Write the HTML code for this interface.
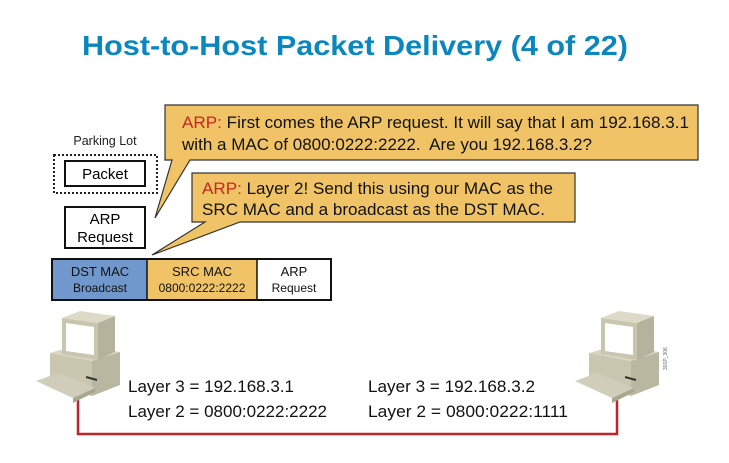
<!DOCTYPE html>
<html><head><meta charset="utf-8"><style>
html,body{margin:0;padding:0;background:#fff;}
svg{display:block;font-family:"Liberation Sans",Arial,sans-serif;}
</style></head><body>
<svg width="729" height="463" viewBox="0 0 729 463" xmlns="http://www.w3.org/2000/svg">
<text x="82" y="55" font-size="28" font-weight="bold" fill="#0a87bf" textLength="546" lengthAdjust="spacingAndGlyphs">Host-to-Host Packet Delivery (4 of 22)</text>

<!-- bubble 1 -->
<path d="M165,105 L698,105 L698,160 L190,160 L155,218 L172,160 L165,160 Z" fill="#f0c466" stroke="#333" stroke-width="1.2"/>
<text x="182" y="128" font-size="17" fill="#111" textLength="507" lengthAdjust="spacingAndGlyphs"><tspan fill="#c8281e">ARP:</tspan> First comes the ARP request. It will say that I am 192.168.3.1</text>
<text x="182" y="150" font-size="17" fill="#111" textLength="410" lengthAdjust="spacingAndGlyphs" xml:space="preserve">with a MAC of 0800:0222:2222.  Are you 192.168.3.2?</text>

<!-- bubble 2 -->
<path d="M192,173 L575,173 L575,222 L240,222 L152,255 L205,222 L192,222 Z" fill="#f0c466" stroke="#333" stroke-width="1.2"/>
<text x="202" y="194" font-size="17" fill="#111" textLength="351" lengthAdjust="spacingAndGlyphs"><tspan fill="#c8281e">ARP:</tspan> Layer 2! Send this using our MAC as the</text>
<text x="202" y="215" font-size="17" fill="#111" textLength="343" lengthAdjust="spacingAndGlyphs">SRC MAC and a broadcast as the DST MAC.</text>

<!-- parking lot -->
<text x="105" y="145" font-size="12.5" text-anchor="middle" fill="#222">Parking Lot</text>
<rect x="54" y="155" width="103" height="38" fill="none" stroke="#222" stroke-width="2" stroke-dasharray="2,2"/>
<rect x="65" y="161" width="80" height="25" fill="#fff" stroke="#111" stroke-width="2"/>
<text x="105" y="179" font-size="15" text-anchor="middle">Packet</text>
<rect x="65" y="207" width="80" height="41" fill="#fff" stroke="#111" stroke-width="2"/>
<text x="105" y="224" font-size="15" text-anchor="middle">ARP</text>
<text x="105" y="242" font-size="15" text-anchor="middle">Request</text>

<!-- frame -->
<rect x="52" y="259" width="95" height="41" fill="#7098cc"/>
<rect x="147" y="259" width="110" height="41" fill="#f0c466"/>
<rect x="257" y="259" width="74" height="41" fill="#fff"/>
<rect x="52" y="259" width="279" height="41" fill="none" stroke="#111" stroke-width="2"/>
<line x1="147" y1="259" x2="147" y2="300" stroke="#111" stroke-width="1.5"/>
<line x1="257" y1="259" x2="257" y2="300" stroke="#111" stroke-width="1.5"/>
<text x="100" y="276" font-size="13" text-anchor="middle" fill="#111">DST MAC</text>
<text x="100" y="292" font-size="12" text-anchor="middle" fill="#111">Broadcast</text>
<text x="202" y="276" font-size="13" text-anchor="middle" fill="#111">SRC MAC</text>
<text x="202" y="292" font-size="12" text-anchor="middle" fill="#111">0800:0222:2222</text>
<text x="294" y="276" font-size="13" text-anchor="middle" fill="#111">ARP</text>
<text x="294" y="292" font-size="12" text-anchor="middle" fill="#111">Request</text>

<!-- red line -->
<polyline points="78,397 78,434 617,434 617,397" fill="none" stroke="#c0232a" stroke-width="2.5"/>

<!-- computers -->
<defs>
<g id="pc">
<polygon points="50,353 78,345 120,352 92,361" fill="#d8d6c2"/>
<polygon points="92,361 120,352 120,385 92,396" fill="#b9b7a0"/>
<polygon points="50,353 92,361 92,396 50,385" fill="#c9c7b0"/>
<polygon points="36,381 58,373 95,388 73,398" fill="#d0cebb"/>
<polygon points="73,398 95,388 95,392 73,403" fill="#a9a790"/>
<polygon points="62,318 80,311 115,316 98,323" fill="#dddbc8"/>
<polygon points="98,323 115,316 115,352 98,360" fill="#b5b39c"/>
<polygon points="62,318 98,323 98,360 62,354" fill="#c8c6af"/>
<polygon points="66,323 94,327 94,355 66,351" fill="#fff"/>
<line x1="86" y1="377" x2="97" y2="380" stroke="#333" stroke-width="2"/>
</g>
</defs>
<use href="#pc"/>
<use href="#pc" transform="translate(539,0)"/>
<text x="667" y="370" font-size="5" fill="#666" transform="rotate(-90 667 370)">301P_306</text>

<text x="128" y="392" font-size="17" fill="#111" textLength="166" lengthAdjust="spacingAndGlyphs">Layer 3 = 192.168.3.1</text>
<text x="128" y="417" font-size="17" fill="#111" textLength="199" lengthAdjust="spacingAndGlyphs">Layer 2 = 0800:0222:2222</text>
<text x="368" y="392" font-size="17" fill="#111" textLength="167" lengthAdjust="spacingAndGlyphs">Layer 3 = 192.168.3.2</text>
<text x="368" y="417" font-size="17" fill="#111" textLength="200" lengthAdjust="spacingAndGlyphs">Layer 2 = 0800:0222:1111</text>
</svg>
</body></html>
